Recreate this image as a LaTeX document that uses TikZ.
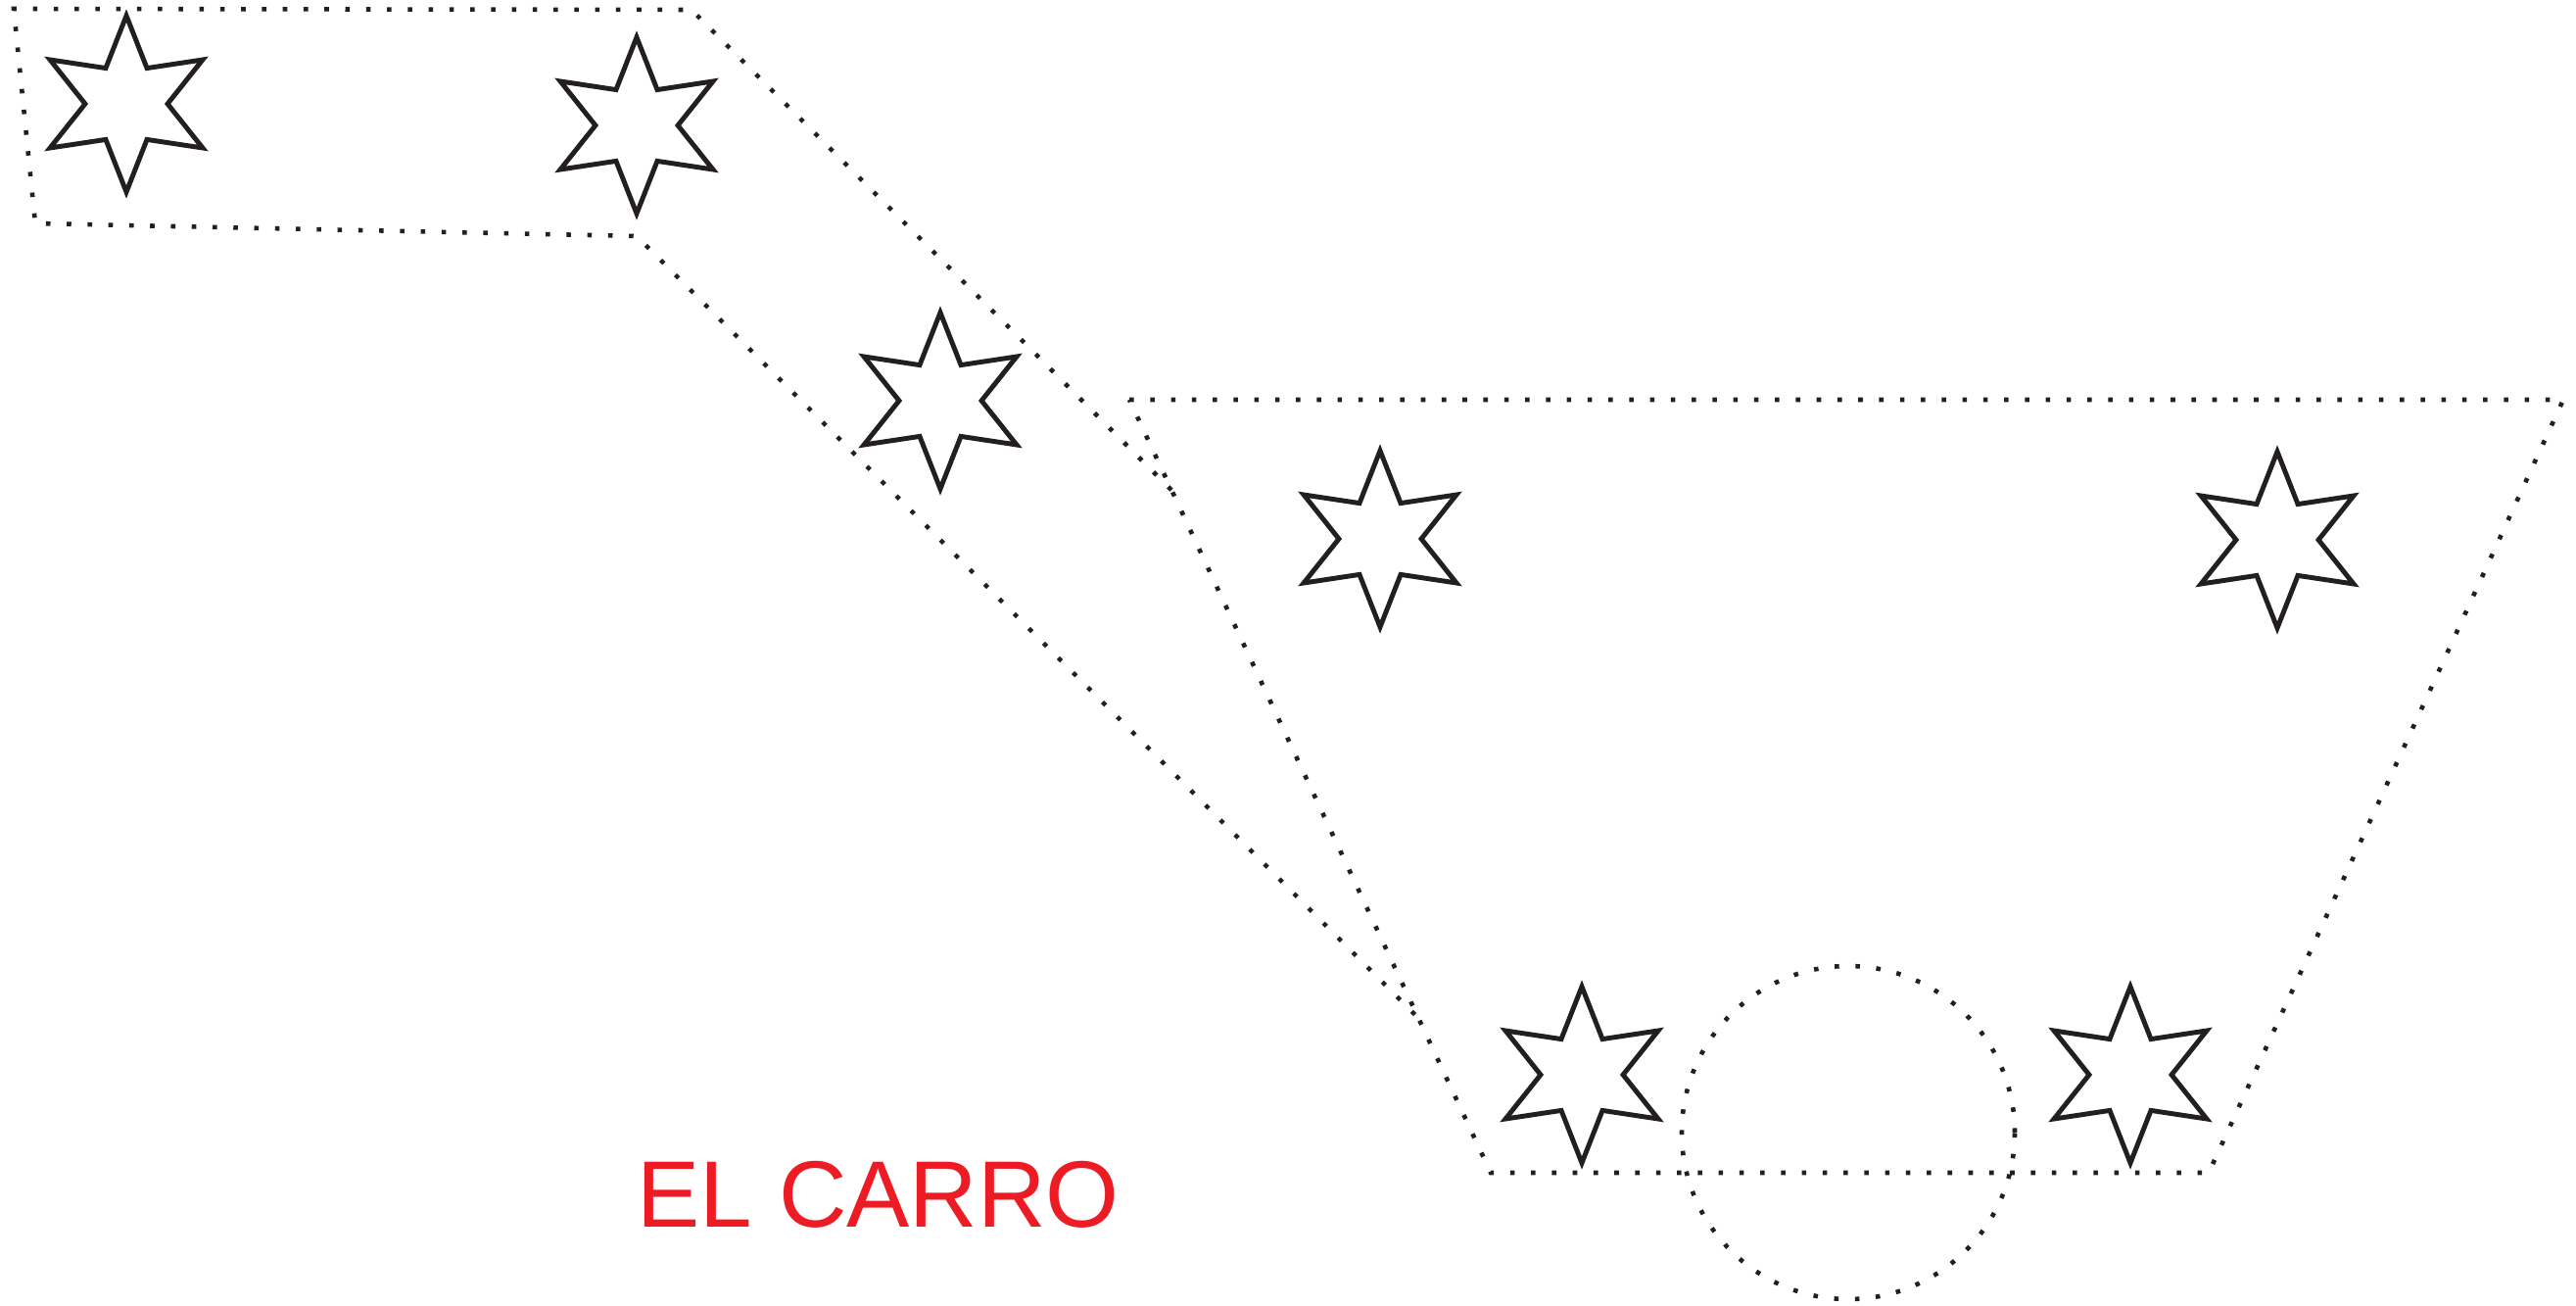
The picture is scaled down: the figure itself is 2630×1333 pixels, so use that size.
\documentclass[tikz,border=0pt]{standalone}
\usepackage{fontspec}
\setmainfont{Liberation Sans}
\usepackage{xcolor}
\usetikzlibrary{calc,shapes.geometric}
\definecolor{tinta}{RGB}{35,31,32}
\definecolor{rojocarro}{RGB}{237,28,36}
\tikzset{
 puntos/.style={line width=1.3pt,dash pattern=on 1.3pt off 4.75pt,color=tinta},
 estrella/.style={draw=tinta,line width=1.4pt,star,star points=6,star point ratio=2.14,minimum size=18mm,inner sep=0pt}
}

\begin{document}
\begin{tikzpicture}[x=0.1mm,y=-0.1mm]
 \useasboundingbox (0,0) rectangle (2630,1333);
 % trapecio
 \coordinate (tzA) at (1153,408);
 \coordinate (tzB) at (2617,408);
 \coordinate (tzC) at (2255,1197);
 \coordinate (tzD) at (1522,1197);
 \draw[puntos] (tzA)--(tzB)--(tzC)--(tzD)--cycle;
 % franja de arriba
 \coordinate (frA) at (14,9);
 \coordinate (frB) at (706,10);
 \coordinate (frC) at (36,228);
 \coordinate (frD) at (650,241);
 \coordinate (frBx) at (1706,1010);
 \coordinate (frDx) at (1650,1241);
 \coordinate (frE) at (intersection of frB--frBx and tzA--tzD);
 \coordinate (frF) at (intersection of frD--frDx and tzA--tzD);
 \draw[puntos] (frE)--(frB)--(frA)--(frC)--(frD)--(frF);
 % rueda
 \coordinate (rueda) at (1887,1156);
 \draw[puntos] (rueda) circle[radius=17mm];
 % estrellas
 \foreach \n/\p in {1/{129,106},2/{650,128},3/{960,409},4/{1409,550},5/{2325,551},6/{1615,1097},7/{2175,1097}}
  \node[estrella] (est\n) at (\p) {};
 \node[anchor=base west,inner sep=0pt,text=rojocarro,font=\fontsize{27.4pt}{30pt}\selectfont] (titulo) at (650,1252) {EL CARRO};
\end{tikzpicture}
\end{document}
